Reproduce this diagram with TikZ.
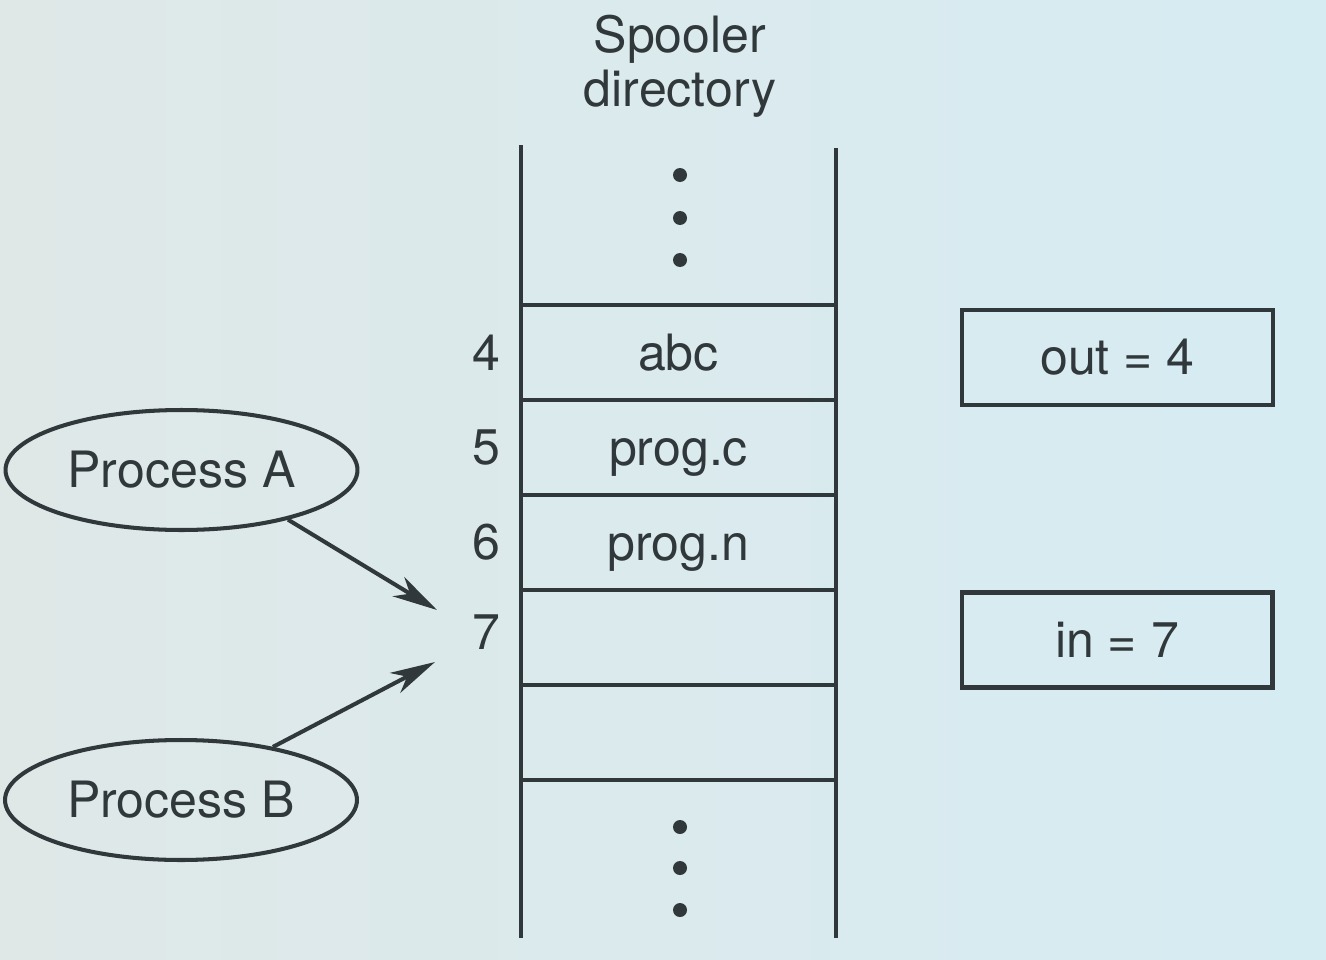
\documentclass[tikz,border=0pt]{standalone}
\usepackage{fontspec}
\setmainfont{TeX Gyre Heros}
\usetikzlibrary{shapes.geometric, arrows.meta, positioning}
\definecolor{SlideBgL}{RGB}{223,232,231}
\definecolor{SlideBgR}{RGB}{214,236,243}
\definecolor{InkGray}{RGB}{48,56,59}

\begin{document}
\begin{tikzpicture}[
    x=0.02cm, y=-0.02cm,
    every node/.style={font=\fontsize{28.5}{31}\selectfont, text=InkGray, align=center},
    slot/.style={rectangle, draw=InkGray, line width=2.3pt, minimum width=6.3cm, minimum height=1.9cm, inner sep=0pt, outer sep=0pt, text height=20pt, text depth=0pt},
    proc/.style={ellipse, draw=InkGray, line width=2.3pt, minimum width=7.04cm, minimum height=2.4cm, inner sep=0pt},
    regbox/.style={rectangle, draw=InkGray, line width=2.3pt, minimum width=6.22cm, minimum height=1.9cm, inner sep=0pt},
    rail/.style={draw=InkGray, line width=2.3pt},
    arrow/.style={-{Stealth[length=0.9cm, width=0.45cm, inset=0.27cm]}, draw=InkGray, line width=2.3pt}
  ]
    % Slide background
    \fill[left color=SlideBgL, right color=SlideBgR] (0,0) rectangle (1326,960);
    \useasboundingbox (0,0) rectangle (1326,960);

    % Spooler directory
    \node (title) at (680,66) {Spooler\\directory};
    \node[slot] (c4) at (678.5,352.5) {abc};
    \node[slot, below=0pt of c4] (c5) {prog.c};
    \node[slot, below=0pt of c5] (c6) {prog.n};
    \node[slot, below=0pt of c6] (c7) {};
    \node[slot, below=0pt of c7] (c8) {};
    \draw[rail] (521,145) -- (521,938);
    \draw[rail] (836,148) -- (836,938);
    \foreach \y in {175,218,260,827,868,910}
      \fill[InkGray] (680,\y) circle (0.14cm);

    % Slot numbers
    \node[inner sep=0pt, left=0.4cm of c4] (n4) {4};
    \node[inner sep=0pt, left=0.4cm of c5] (n5) {5};
    \node[inner sep=0pt, left=0.4cm of c6] (n6) {6};
    \node[inner sep=0pt, left=0.4cm of c7, yshift=0.1cm] (n7) {7};

    % Shared variables
    \node[regbox] (out) at (1117.5,357.5) {out = 4};
    \node[regbox] (in) at (1117,640) {in = 7};

    % Processes
    \node[proc] (pa) at (181.5,470) {Process A};
    \node[proc] (pb) at (181,800) {Process B};
    \coordinate (tipA) at (437,610);
    \coordinate (tipB) at (435,662);

    % Connections
    \draw[arrow] (pa.-25) -- (tipA);
    \draw[arrow] (pb.30) -- (tipB);
  \end{tikzpicture}
\end{document}
